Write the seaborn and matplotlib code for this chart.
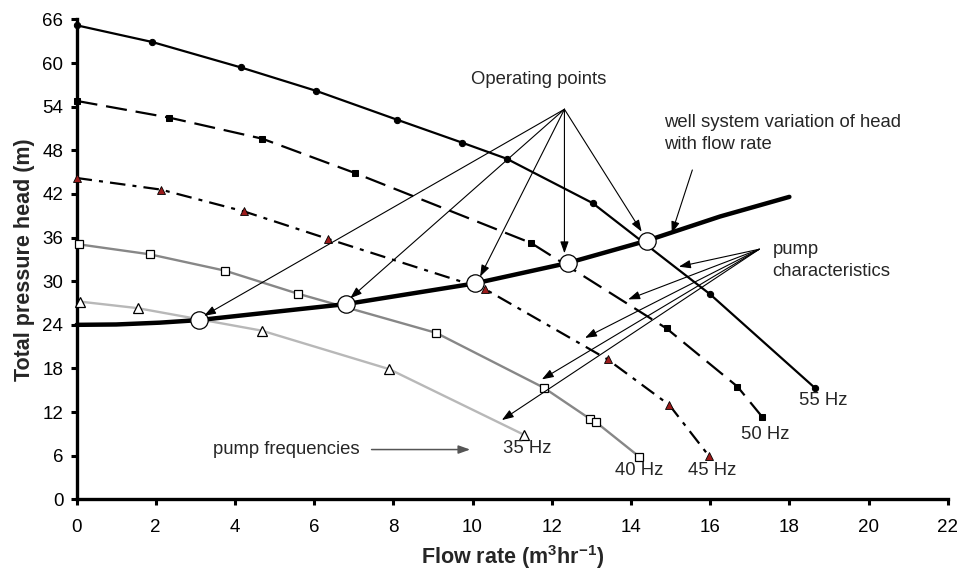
import matplotlib
matplotlib.use('Agg')
import matplotlib.pyplot as plt
import seaborn as sns

# Pump curves: flow rate (m3/hr) vs total head (m)
hz55_flow = [0, 1.91, 4.15, 6.04, 8.1, 9.74, 10.86, 13.03, 16.0, 18.65]
hz55_head = [65.2, 62.9, 59.4, 56.2, 52.2, 49.05, 46.85, 40.75, 28.2, 15.3]

hz50_flow = [0, 2.34, 4.69, 7.02, 11.48, 14.9, 16.69, 17.32]
hz50_head = [54.8, 52.5, 49.6, 44.9, 35.25, 23.5, 15.5, 11.3]

hz45_flow = [0, 2.13, 4.23, 6.36, 10.32, 13.41, 14.97, 15.97]
hz45_head = [44.2, 42.6, 39.6, 35.8, 28.9, 19.25, 12.97, 5.96]

hz40_flow = [0.06, 1.85, 3.75, 5.58, 9.08, 11.8, 12.97, 13.12, 14.21]
hz40_head = [35.07, 33.7, 31.45, 28.3, 22.9, 15.35, 11.05, 10.6, 5.86]

hz35_flow = [0.08, 1.54, 4.68, 7.9, 11.31]
hz35_head = [27.2, 26.3, 23.2, 17.9, 8.85]

# Well system curve and operating points
sys_flow = [0, 1.0, 2.1, 3.1, 6.81, 10.06, 12.4, 14.4, 16.25, 18.0]
sys_head = [24.0, 24.05, 24.3, 24.66, 26.86, 29.7, 32.5, 35.57, 38.9, 41.6]

op_flow = [3.1, 6.81, 10.06, 12.4, 14.4]
op_head = [24.66, 26.86, 29.7, 32.5, 35.57]

# Arrow tips for the annotations
op_tip_x = [3.22, 6.91, 10.19, 12.32, 14.27]
op_tip_y = [25.24, 27.65, 30.62, 33.84, 36.81]
pc_tip_x = [15.21, 13.93, 12.84, 11.75, 10.74]
pc_tip_y = [32.0, 27.5, 22.2, 16.5, 10.9]

hz_labels = ['55 Hz', '50 Hz', '45 Hz', '40 Hz', '35 Hz']
hz_label_x = [18.86, 17.39, 16.06, 14.21, 11.38]
hz_label_y = [13.56, 8.98, 3.9, 3.9, 7.0]

x_ticks = list(range(0, 23, 2))
y_ticks = list(range(0, 67, 6))

sns.set_style('ticks')
plt.rcParams['font.family'] = ['Liberation Sans', 'DejaVu Sans']
plt.rcParams['mathtext.fontset'] = 'custom'
plt.rcParams['mathtext.rm'] = 'Liberation Sans'
plt.rcParams['mathtext.bf'] = 'Liberation Sans:bold'

TXT = 13.3

fig = plt.figure(figsize=(9.59, 5.72), dpi=100)
ax = fig.add_axes([0.0798, 0.127, 0.9085, 0.839])

common = dict(ax=ax, sort=False, estimator=None, clip_on=False, zorder=3)

# 55 Hz - solid black, small dots
sns.lineplot(x=hz55_flow, y=hz55_head, color='black', linewidth=1.6,
             marker='o', markersize=4.5, mfc='black', mec='black', **common)
# 50 Hz - dashed black, small squares
sns.lineplot(x=hz50_flow, y=hz50_head, color='black', linewidth=1.6,
             linestyle=(0, (9.5, 4)), marker='s', markersize=4.5,
             mfc='black', mec='black', **common)
# 45 Hz - dash dot, dark red triangles
sns.lineplot(x=hz45_flow, y=hz45_head, color='black', linewidth=1.6,
             linestyle=(0, (7, 3.2, 1.8, 3.2)), marker='^', markersize=6,
             mfc='#9b1b1b', mec='black', mew=0.6, **common)
# 40 Hz - grey, open squares
sns.lineplot(x=hz40_flow, y=hz40_head, color='#878787', linewidth=1.7,
             marker='s', markersize=6, mfc='white', mec='black', mew=0.9, **common)
# 35 Hz - light grey, open triangles
sns.lineplot(x=hz35_flow, y=hz35_head, color='#b8b8b8', linewidth=1.7,
             marker='^', markersize=7, mfc='white', mec='black', mew=0.9, **common)

# well system curve
sns.lineplot(x=sys_flow, y=sys_head, color='black', linewidth=3.2,
             ax=ax, sort=False, estimator=None, clip_on=False, zorder=4)

# operating points
ax.plot(op_flow, op_head, linestyle='none', marker='o', markersize=12.5,
        mfc='white', mec='black', mew=0.9, zorder=5)

arrow = dict(arrowstyle='-|>,head_length=0.7,head_width=0.25', color='black',
             lw=0.8, shrinkA=0, shrinkB=0)

ax.text(11.68, 57.7, 'Operating points', ha='center', va='center', fontsize=TXT)
for tx, ty in zip(op_tip_x, op_tip_y):
    ax.annotate('', xy=(tx, ty), xytext=(12.32, 53.65), arrowprops=arrow, zorder=6)

ax.text(14.84, 50.35, 'well system variation of head\nwith flow rate',
        ha='left', va='center', fontsize=TXT, linespacing=1.4)
ax.annotate('', xy=(15.03, 36.6), xytext=(15.55, 45.3), arrowprops=arrow, zorder=6)

ax.text(17.57, 32.87, 'pump\ncharacteristics', ha='left', va='center',
        fontsize=TXT, linespacing=1.4)
for tx, ty in zip(pc_tip_x, pc_tip_y):
    ax.annotate('', xy=(tx, ty), xytext=(17.24, 34.4), arrowprops=arrow, zorder=6)

ax.text(5.29, 6.92, 'pump frequencies', ha='center', va='center', fontsize=TXT)
ax.annotate('', xy=(9.94, 6.85), xytext=(7.45, 6.85),
            arrowprops=dict(arrowstyle='-|>,head_length=0.7,head_width=0.25',
                            color='#555555', lw=1.1, shrinkA=0, shrinkB=0))

for lab, lx, ly in zip(hz_labels, hz_label_x, hz_label_y):
    ax.text(lx, ly, lab, ha='center', va='center', fontsize=TXT)

ax.set_xlim(0, 22)
ax.set_ylim(0, 66)
ax.set_xticks(x_ticks)
ax.set_yticks(y_ticks)
sns.despine(ax=ax)
for side in ['left', 'bottom']:
    ax.spines[side].set_linewidth(2.4)
    ax.spines[side].set_color('black')
ax.tick_params(direction='out', length=4.5, width=2.2, labelsize=13.5,
               colors='black')
ax.tick_params(axis='x', pad=9.5)
ax.tick_params(axis='y', pad=5)

ax.set_xlabel(r'Flow rate (m$^{\mathbf{3}}$hr$^{\mathbf{-1}}$)',
              fontsize=15.5, fontweight='bold', labelpad=5.5)
ax.set_ylabel('Total pressure head (m)', fontsize=15.5, fontweight='bold', labelpad=5)

fig.savefig('out.png', dpi=100)
